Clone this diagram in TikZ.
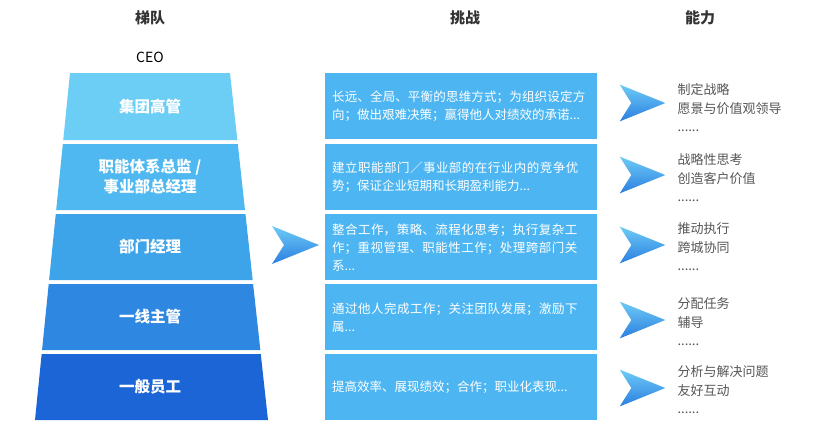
\documentclass[tikz,border=0pt]{standalone}
\usepackage{fontspec}
\setmainfont{Noto Sans CJK SC}
\XeTeXlinebreaklocale "zh"
\XeTeXlinebreakskip=0pt plus 1pt
\usetikzlibrary{positioning}
\definecolor{tierA}{HTML}{6CCDF5}
\definecolor{tierB}{HTML}{4FB8F0}
\definecolor{tierC}{HTML}{3DA4EA}
\definecolor{tierD}{HTML}{2E87E0}
\definecolor{tierE}{HTML}{1B65D6}
\definecolor{boxblue}{HTML}{4DB6F2}
\definecolor{txtgray}{HTML}{555555}
\definecolor{arrowlight}{HTML}{6FCBF6}
\definecolor{arrowdark}{HTML}{2A7FE0}
\tikzset{
  header/.style={font=\bfseries\fontsize{15}{17}\selectfont, text=black!80},
  tiertext/.style={text=white, font=\bfseries\fontsize{15.5}{20}\selectfont, align=center},
  challenge/.style={fill=boxblue, minimum width=270pt, minimum height=66pt, anchor=north west,
    text width=258pt, align=left, text=white, font=\fontsize{12.5}{18}\selectfont, inner xsep=7pt, inner ysep=9pt},
  ability/.style={anchor=west, align=left, text=txtgray, font=\fontsize{13}{18.5}\selectfont},
  chevron/.style={top color=arrowlight, bottom color=arrowdark, draw=none}
}
\newcommand{\chev}[3]{% x, y (centre), scale
  \shade[chevron] (#1-23*#3,#2-19*#3) -- (#1+24*#3,#2) -- (#1-23*#3,#2+19*#3) -- (#1-11*#3,#2) -- cycle;}
\begin{document}
\begin{tikzpicture}[x=1pt,y=-1pt]
  \useasboundingbox (0,0) rectangle (828,439);
  % headers
  \node[header] (hTier) at (150,18) {梯队};
  \node[header] (hChal) at (465,18) {挑战};
  \node[header] (hAbil) at (700,18) {能力};
  \node[font=\fontsize{14}{16}\selectfont] (ceo) at (150,57) {CEO};
  % pyramid bands
  \foreach \top/\bot/\col [count=\i] in {73/140/tierA,144/210/tierB,214/280/tierC,284/350/tierD,354/420/tierE}{
    \fill[\col] ({70-35*(\top-73)/347},\top) -- ({230+38*(\top-73)/347},\top)
      -- ({230+38*(\bot-73)/347},\bot) -- ({70-35*(\bot-73)/347},\bot) -- cycle;
  }
  \node[tiertext] (t1) at (150,107) {集团高管};
  \node[tiertext] (t2) at (150,177) {职能体系总监 /\\事业部总经理};
  \node[tiertext] (t3) at (150,247) {部门经理};
  \node[tiertext] (t4) at (150,317) {一线主管};
  \node[tiertext] (t5) at (150,387) {一般员工};
  % big arrow
  \chev{295}{245}{1}
  % challenges
  \node[challenge] (c1) at (325,73) {长远、全局、平衡的思维方式；为组织设定方向；做出艰难决策；赢得他人对绩效的承诺...};
  \node[challenge] (c2) at (325,144) {建立职能部门／事业部的在行业内的竞争优势；保证企业短期和长期盈利能力...};
  \node[challenge] (c3) at (325,214) {整合工作，策略、流程化思考；执行复杂工作；重视管理、职能性工作；处理跨部门关系...};
  \node[challenge] (c4) at (325,284) {通过他人完成工作；关注团队发展；激励下属...};
  \node[challenge] (c5) at (325,354) {提高效率、展现绩效；合作；职业化表现...};
  % ability arrows and texts
  \foreach \y in {103,175,245,320,388}{ \chev{642}{\y}{0.97} }
  \node[ability] (a1) at (674,108) {制定战略\\愿景与价值观领导\\......};
  \node[ability] (a2) at (674,178) {战略性思考\\创造客户价值\\......};
  \node[ability] (a3) at (674,247) {推动执行\\跨城协同\\......};
  \node[ability] (a4) at (674,322) {分配任务\\辅导\\......};
  \node[ability] (a5) at (674,390) {分析与解决问题\\友好互动\\......};
\end{tikzpicture}
\end{document}
